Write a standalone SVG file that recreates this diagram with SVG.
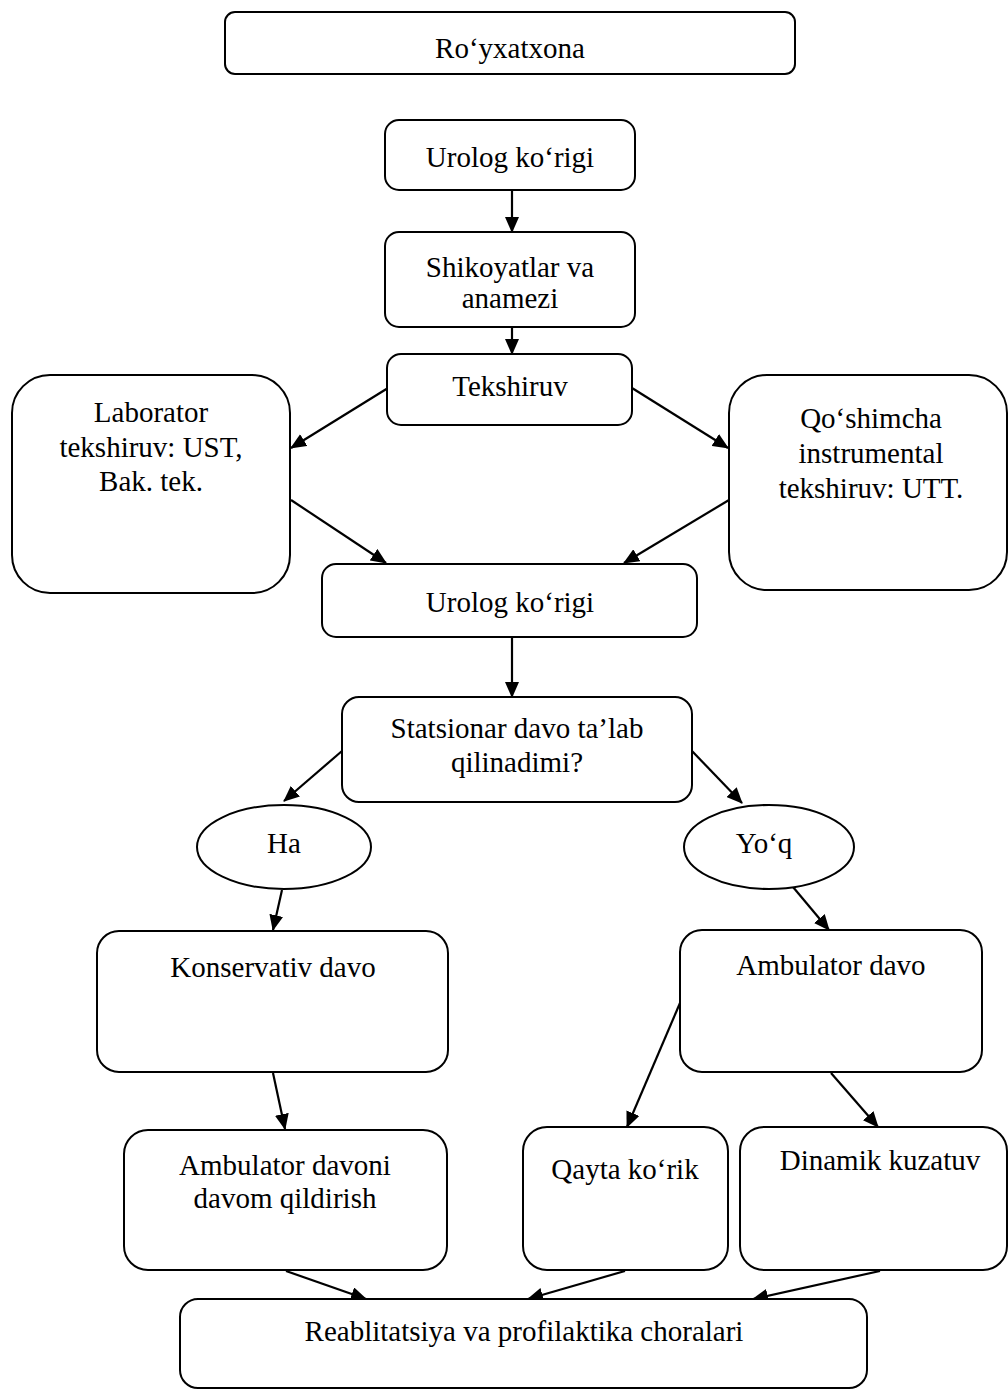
<svg xmlns="http://www.w3.org/2000/svg" width="1008" height="1390" viewBox="0 0 1008 1390">
<style>
.box{fill:#fff;stroke:#000;stroke-width:2}
.t{font-family:"Liberation Serif","Times New Roman",serif;font-size:29px;fill:#000;text-anchor:middle}
.c{stroke:#000;stroke-width:2.2;fill:none;marker-end:url(#ah)}
</style>
<defs>
<marker id="ah" markerUnits="userSpaceOnUse" markerWidth="16" markerHeight="14" refX="15" refY="7" orient="auto">
<path d="M0,0 L16,7 L0,14 z" fill="#000"/>
</marker>
</defs>
<rect width="1008" height="1390" fill="#fff"/>
<g id="connectors">
<line class="c" x1="512" y1="190" x2="512" y2="232"/>
<line class="c" x1="512" y1="327" x2="512" y2="354"/>
<line class="c" x1="388" y1="388" x2="291" y2="448"/>
<line class="c" x1="632" y1="388" x2="728" y2="448"/>
<line class="c" x1="291" y1="500" x2="386" y2="563"/>
<line class="c" x1="729" y1="500" x2="624" y2="563"/>
<line class="c" x1="512" y1="637" x2="512" y2="697"/>
<line class="c" x1="342" y1="751" x2="284" y2="801"/>
<line class="c" x1="692" y1="751" x2="742" y2="803"/>
<line class="c" x1="282" y1="890" x2="273" y2="930"/>
<line class="c" x1="793" y1="887" x2="829" y2="930"/>
<line class="c" x1="273" y1="1073" x2="285" y2="1129"/>
<line class="c" x1="680" y1="1003" x2="627" y2="1127"/>
<line class="c" x1="831" y1="1073" x2="878" y2="1127"/>
<line class="c" x1="286" y1="1271" x2="366" y2="1299"/>
<line class="c" x1="625" y1="1271" x2="528" y2="1299"/>
<line class="c" x1="880" y1="1271" x2="753" y2="1299"/>
</g>
<g id="royxatxona"><rect class="box" x="225" y="12" width="570" height="62" rx="10"/><text class="t" x="510" y="58">Roʻyxatxona</text></g>
<g id="urolog1"><rect class="box" x="385" y="120" width="250" height="70" rx="14"/><text class="t" x="510" y="167">Urolog koʻrigi</text></g>
<g id="shikoyat"><rect class="box" x="385" y="232" width="250" height="95" rx="14"/><text class="t" x="510" y="277">Shikoyatlar va</text><text class="t" x="510" y="308">anamezi</text></g>
<g id="tekshiruv"><rect class="box" x="387" y="354" width="245" height="71" rx="14"/><text class="t" x="510" y="396">Tekshiruv</text></g>
<g id="laborator"><rect class="box" x="12" y="375" width="278" height="218" rx="38"/><text class="t" x="151" y="422">Laborator</text><text class="t" x="151" y="457">tekshiruv: UST,</text><text class="t" x="151" y="491">Bak. tek.</text></g>
<g id="qoshimcha"><rect class="box" x="729" y="375" width="278" height="215" rx="38"/><text class="t" x="871" y="428">Qoʻshimcha</text><text class="t" x="871" y="463">instrumental</text><text class="t" x="871" y="498">tekshiruv: UTT.</text></g>
<g id="urolog2"><rect class="box" x="322" y="564" width="375" height="73" rx="14"/><text class="t" x="510" y="612">Urolog koʻrigi</text></g>
<g id="statsionar"><rect class="box" x="342" y="697" width="350" height="105" rx="17"/><text class="t" x="517" y="738">Statsionar davo ta’lab</text><text class="t" x="517" y="772">qilinadimi?</text></g>
<g id="ha"><ellipse class="box" cx="284" cy="847" rx="87" ry="42"/><text class="t" x="284" y="853">Ha</text></g>
<g id="yoq"><ellipse class="box" cx="769" cy="847" rx="85" ry="42"/><text class="t" x="764" y="853">Yoʻq</text></g>
<g id="konservativ"><rect class="box" x="97" y="931" width="351" height="141" rx="22"/><text class="t" x="273" y="977">Konservativ davo</text></g>
<g id="ambulator-davo"><rect class="box" x="680" y="930" width="302" height="142" rx="22"/><text class="t" x="831" y="975">Ambulator davo</text></g>
<g id="ambulator-davoni"><rect class="box" x="124" y="1130" width="323" height="140" rx="24"/><text class="t" x="285" y="1175">Ambulator davoni</text><text class="t" x="285" y="1208">davom qildirish</text></g>
<g id="qayta"><rect class="box" x="523" y="1127" width="205" height="143" rx="24"/><text class="t" x="625" y="1179">Qayta koʻrik</text></g>
<g id="dinamik"><rect class="box" x="740" y="1127" width="267" height="143" rx="24"/><text class="t" x="880" y="1170">Dinamik kuzatuv</text></g>
<g id="reablitatsiya"><rect class="box" x="180" y="1299" width="687" height="89" rx="18"/><text class="t" x="524" y="1341">Reablitatsiya va profilaktika choralari</text></g>
</svg>
